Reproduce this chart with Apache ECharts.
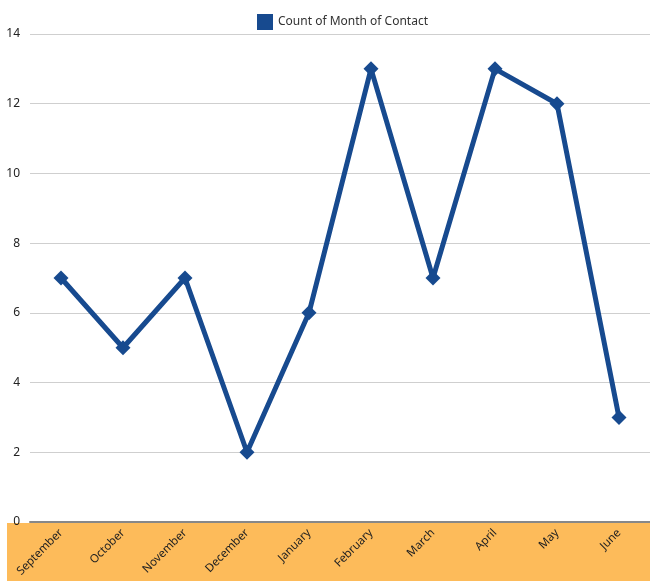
<!DOCTYPE html>
<html>
<head>
<meta charset="utf-8">
<script src="https://cdn.jsdelivr.net/npm/echarts@6/dist/echarts.min.js"></script>
<style>
  html, body { margin: 0; padding: 0; background: #fff; }
  #chart { width: 650px; height: 581px; }
</style>
</head>
<body>
<div id="chart"></div>
<script>
// Months of contact and how many contacts fell in each
const months = ['September', 'October', 'November', 'December', 'January', 'February', 'March', 'April', 'May', 'June'];
const contactCounts = [7, 5, 7, 2, 6, 13, 7, 13, 12, 3];
const yTicks = [0, 2, 4, 6, 8, 10, 12, 14];
const seriesName = 'Count of Month of Contact';

const chart = echarts.init(document.getElementById('chart'));
chart.setOption({
  animation: false,
  textStyle: { fontFamily: '"Noto Sans", "DejaVu Sans", sans-serif' },
  // orange band behind the category labels
  graphic: [{
    type: 'rect',
    z: -10,
    shape: { x: 7, y: 523, width: 643, height: 58 },
    style: { fill: '#FDBB5A' }
  }],
  legend: {
    top: 9,
    left: 252,
    itemWidth: 16,
    itemHeight: 16,
    itemGap: 6,
    icon: 'rect',
    textStyle: { fontSize: 12, color: '#333' },
    data: [seriesName]
  },
  grid: { left: 30, right: -3, top: 34, bottom: 59 },
  xAxis: {
    type: 'category',
    data: months,
    boundaryGap: true,
    axisLine: { lineStyle: { color: '#888', width: 2 } },
    axisTick: { show: false },
    axisLabel: { rotate: 45, fontSize: 11.5, color: '#222', margin: 9 }
  },
  yAxis: {
    type: 'value',
    min: yTicks[0],
    max: yTicks[yTicks.length - 1],
    interval: 2,
    axisLine: { show: false },
    axisTick: { show: false },
    axisLabel: { fontSize: 12, color: '#222', margin: 10 },
    splitLine: { lineStyle: { color: '#cfcfcf', width: 1 } }
  },
  series: [{
    name: seriesName,
    type: 'line',
    data: contactCounts,
    symbol: 'diamond',
    symbolSize: 15,
    lineStyle: { color: '#174A8F', width: 5 },
    itemStyle: { color: '#174A8F' }
  }]
});
</script>
</body>
</html>
